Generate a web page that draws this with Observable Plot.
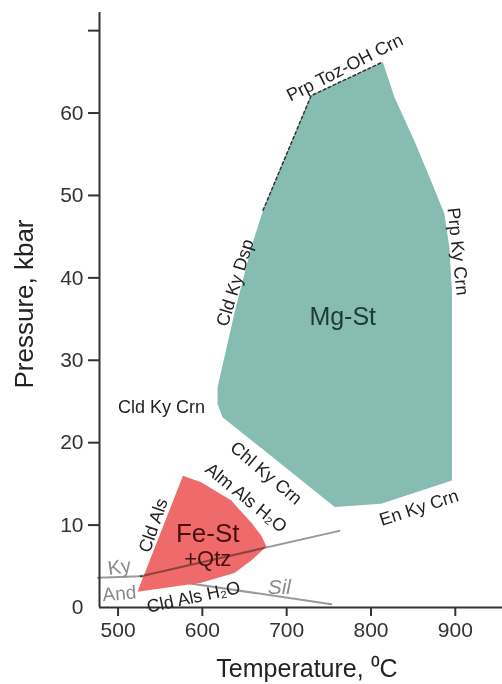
<!DOCTYPE html>
<html>
<head>
<meta charset="utf-8">
<script src="https://cdn.jsdelivr.net/npm/d3@7"></script>
<script src="https://cdn.jsdelivr.net/npm/@observablehq/plot@0.6"></script>
<style>
  html, body { margin: 0; padding: 0; background: #fff; }
  #chart svg { display: block; font-family: "Liberation Sans", Arial, sans-serif; }
  #chart g[aria-label$="axis tick"] { stroke-width: 2; stroke: #333; }
  #chart g[aria-label="y-axis tick"] path:first-child { display: none; }
  #chart .tick line { stroke-width: 2; stroke: #333; }
  #chart g[aria-label$="axis tick label"], #chart .tick text { fill: #333; }
</style>
</head>
<body>
<div id="chart"></div>
<script>
// Mg-staurolite stability field (Temperature °C, Pressure kbar)
const mgT = [814, 828, 851.5, 871, 887, 893, 896, 896, 812, 757, 624, 618, 618, 638, 658, 672, 729];
const mgP = [66.2, 61.9, 56.6, 51.8, 47.8, 43.7, 38.5, 15.4, 12.6, 12.2, 23.1, 24.7, 26.7, 35.7, 43.7, 48.2, 62.1];
// dashed (inferred) upper-left boundary of the Mg-St field
const dashT = [672, 729, 814];
const dashP = [48.2, 62.1, 66.2];
// Fe-staurolite + quartz field
const feT = [577, 598.5, 634, 658, 670, 676, 658, 638, 598.5, 523];
const feP = [16.0, 15.2, 13.0, 10.3, 8.7, 7.4, 5.7, 4.2, 3.0, 1.9];
// Al2SiO5 polymorph boundaries
const andKyT = [476, 527];
const andKyP = [3.6, 3.8];
const kySilT = [527, 762.5];
const kySilP = [3.8, 9.3];
const andSilT = [527, 753];
const andSilP = [3.8, 0.4];
// axis ticks
const xTicks = [500, 600, 700, 800, 900];
const yTicks = [0, 10, 20, 30, 40, 50, 60, 70];
const yTickLabels = ["0", "10", "20", "30", "40", "50", "60", ""];

const pts = (T, P) => T.map((t, i) => ({T: t, P: P[i]}));
const closed = (T, P) => { const a = pts(T, P); return a.concat([a[0]]); };

const font = "Liberation Sans, Arial, sans-serif";
const lab = (text, T, P, o = {}) => Plot.text([{T, P, text}], {
  x: "T", y: "P", text: "text", fontSize: 18, fill: "#222", fontFamily: font, ...o
});

const chart = Plot.plot({
  width: 502,
  height: 684,
  marginLeft: 99,
  marginRight: 0,
  marginTop: 12,
  marginBottom: 77,
  x: {domain: [478, 956], ticks: xTicks, tickSize: 9, tickPadding: 6, label: null},
  y: {domain: [0, 72.2], ticks: yTicks, tickSize: 11, tickPadding: 5, label: null,
      tickFormat: d => yTickLabels[yTicks.indexOf(d)]},
  style: {fontFamily: font, fontSize: "21px", background: "#fff", color: "#333"},
  marks: [
    Plot.line(closed(mgT, mgP), {x: "T", y: "P", fill: "#86bcb2", stroke: "none"}),
    Plot.line(pts(dashT, dashP), {x: "T", y: "P", stroke: "#333", strokeWidth: 1.5, strokeDasharray: "3,2.5"}),
    Plot.line(pts(andSilT, andSilP), {x: "T", y: "P", stroke: "#999", strokeWidth: 2}),
    Plot.line(closed(feT, feP), {x: "T", y: "P", fill: "#ef6a6a", stroke: "none"}),
    Plot.line(pts(andKyT, andKyP), {x: "T", y: "P", stroke: "#999", strokeWidth: 2, mixBlendMode: "multiply"}),
    Plot.line(pts(kySilT, kySilP), {x: "T", y: "P", stroke: "#999", strokeWidth: 2, mixBlendMode: "multiply"}),
    // axis lines
    Plot.ruleY([0], {stroke: "#333", strokeWidth: 2}),
    Plot.ruleX([478], {stroke: "#333", strokeWidth: 2}),
    Plot.text(["Temperature, \u2070C"], {frameAnchor: "bottom", textAnchor: "middle", lineAnchor: "middle", dx: 6, dy: 61, fontSize: 25, fill: "#222"}),
    Plot.text(["Pressure, kbar"], {frameAnchor: "left", textAnchor: "middle", lineAnchor: "middle", dx: -75, dy: -6, rotate: -90, fontSize: 26, fill: "#222"}),
    // field labels
    lab("Prp Toz-OH Crn", 769, 65.5, {rotate: -27}),
    lab("Prp Ky Crn", 903, 43.2, {rotate: 84}),
    lab("Cld Ky Dsp", 639, 39.4, {rotate: -73}),
    lab("Cld Ky Crn", 551.6, 24.3),
    lab("Mg-St", 766.5, 35.2, {fontSize: 25, fill: "#1f3a36"}),
    lab("Chl Ky Crn", 675.6, 16.3, {rotate: 40}),
    lab("Alm Als H\u2082O", 651.8, 13.3, {rotate: 39}),
    lab("En Ky Crn", 857, 12.1, {rotate: -18}),
    lab("Cld Als", 542, 9.95, {rotate: -71}),
    lab("Fe-St", 606.4, 8.94, {fontSize: 26, fill: "#4a1010"}),
    lab("+Qtz", 606.4, 5.9, {fontSize: 22, fill: "#4a1010"}),
    lab("Cld Als H\u2082O", 589.6, 1.25, {rotate: -12}),
    lab("Ky", 501.5, 4.9, {rotate: -8, fontSize: 20, fill: "#8a8a8a"}),
    lab("And", 501.5, 1.66, {rotate: -5, fontSize: 19, fill: "#8a8a8a"}),
    lab("Sil", 691.3, 2.46, {fontSize: 21, fontStyle: "italic", fill: "#8a8a8a"})
  ]
});
document.getElementById("chart").append(chart);
</script>
</body>
</html>
